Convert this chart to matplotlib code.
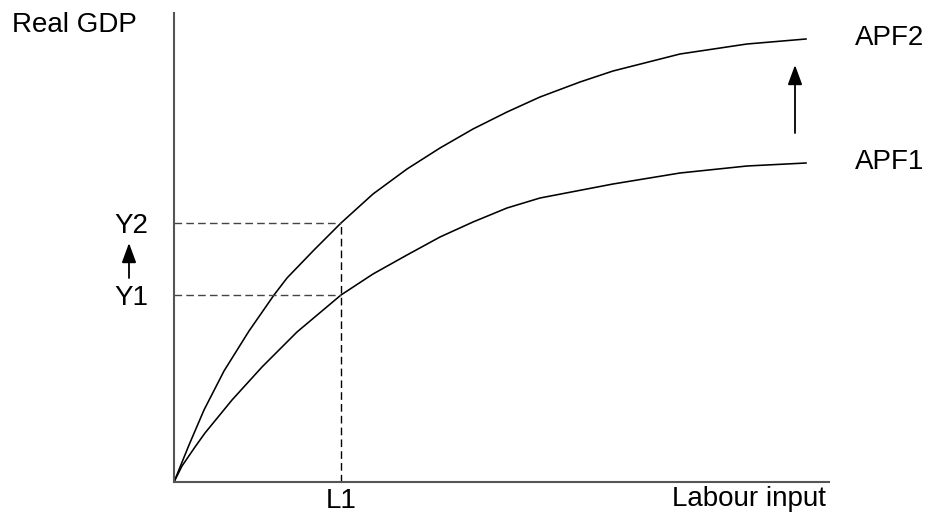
import matplotlib
matplotlib.use('Agg')
import matplotlib.pyplot as plt

# values (same units for both axes)
labour_apf1 = [0, 8, 21, 31, 58, 88, 123, 167, 199, 233, 266, 299, 333, 366, 439, 506, 573, 632]
gdp_apf1 = [0, 16, 35, 49, 82, 115, 150, 187, 208, 227, 245, 260, 274, 284, 298, 309, 316, 319]

labour_apf2 = [0, 15, 30, 50, 75, 100, 113, 140, 167, 199, 233, 266, 299, 333, 366, 406, 439, 506, 573, 632]
gdp_apf2 = [0, 37, 72, 111, 151, 187, 204, 232, 259, 288, 313, 334, 353, 370, 385, 400, 411, 428, 438, 443]

L1 = 167
Y1 = 187
Y2 = 259
curve_names = ['APF1', 'APF2']

plt.rcParams['font.family'] = ['Liberation Sans', 'DejaVu Sans']

fig = plt.figure(figsize=(9.36, 5.22), dpi=100)
W, H = 936, 522
ax = fig.add_axes([174 / W, 40 / H, 655 / W, 469 / H])
ax.set_xlim(0, 655)
ax.set_ylim(0, 469)

for s in ['top', 'right']:
    ax.spines[s].set_visible(False)
for s in ['left', 'bottom']:
    ax.spines[s].set_color('#555555')
    ax.spines[s].set_linewidth(1.5)

# the two production functions
ax.plot(labour_apf1, gdp_apf1, color='black', lw=1.15, solid_joinstyle='round')
ax.plot(labour_apf2, gdp_apf2, color='black', lw=1.15, solid_joinstyle='round')

# guide lines
dash = (0, (5.5, 3.0))
ax.plot([0, L1], [Y2, Y2], color='#444444', lw=1.0, linestyle=dash)
ax.plot([0, L1], [Y1, Y1], color='#444444', lw=1.0, linestyle=dash)
ax.plot([L1, L1], [0, Y2], color='black', lw=1.0, linestyle=dash)

# ticks
ax.set_xticks([L1])
ax.set_xticklabels(['L1'])
ax.set_yticks([Y1, Y2])
ax.set_yticklabels(['Y1', 'Y2'])
ax.tick_params(axis='x', length=0, pad=4, labelsize=20)
ax.tick_params(axis='y', length=0, pad=18.5, labelsize=20)

# labels
ax.text(-162, 457, 'Real GDP', fontsize=20, ha='left', va='center', clip_on=False)
ax.text(652, -4, 'Labour input', fontsize=20, ha='right', va='top', clip_on=False)
ax.text(681, gdp_apf1[-1] + 1, curve_names[0], fontsize=20, ha='left', va='center', clip_on=False)
ax.text(681, gdp_apf2[-1] + 1, curve_names[1], fontsize=20, ha='left', va='center', clip_on=False)

# arrows for the upward shift
arr = dict(arrowstyle='-|>,head_length=0.6,head_width=0.22', mutation_scale=20,
           color='black', lw=1.3, shrinkA=0, shrinkB=0)
ax.annotate('', xy=(621, 417), xytext=(621, 349), arrowprops=arr, annotation_clip=False)
ax.annotate('', xy=(-45, 239), xytext=(-45, 204), arrowprops=arr, annotation_clip=False)

fig.savefig('out.png', dpi=100, facecolor='white')
